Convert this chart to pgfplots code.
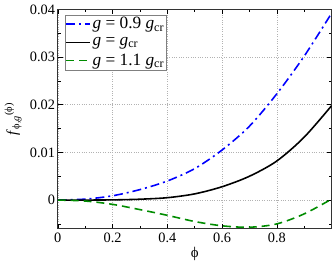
\documentclass[border=0pt]{standalone}
\usepackage{fontspec}
\setmainfont{Liberation Serif}
\usepackage{pgfplots}
\pgfplotsset{compat=1.18}
\definecolor{myblue}{RGB}{0,0,255}
\definecolor{mygreen}{RGB}{0,140,0}
\begin{document}
\fontsize{14}{16}\selectfont
\begin{tikzpicture}
\begin{axis}[
  scale only axis,
  width=276bp, height=221bp,
  xmin=0, xmax=1.0, ymin=-0.006, ymax=0.04,
  xtick={0,0.2,0.4,0.6,0.8},
  xticklabels={0,0.2,0.4,0.6,0.8},
  ytick={0,0.01,0.02,0.03,0.04},
  yticklabels={0,0.01,0.02,0.03,0.04},
  minor xtick={0.1,0.3,0.5,0.7,0.9},
  minor ytick={-0.005,0.005,0.015,0.025,0.035},
  scaled y ticks=false,
  tick align=inside,
  major tick length=5bp, minor tick length=3bp,
  every tick/.style={black, line width=0.6pt},
  axis line style={line width=0.9pt, black!80},
  grid=major,
  major grid style={gray!60, dotted, line width=0.6pt},
  tick label style={font=\fontsize{14.5}{16}\selectfont},
  xticklabel style={yshift=1bp},
  yticklabel style={xshift=2bp},
  /pgf/number format/assume math mode=true,
  xlabel={ϕ},
  ylabel={\textit{f}\textsubscript{ϕ,\textit{g}}\textsuperscript{(ϕ)}},
  label style={font=\fontsize{15}{17}\selectfont},
  xlabel style={yshift=4bp},
  ylabel style={yshift=-1bp},
  legend style={at={(0.025,0.977)}, anchor=north west, draw=gray, line width=0.6pt,
    font=\fontsize{17.5}{19}\selectfont, inner sep=0.5pt, row sep=2.5bp, cells={anchor=west}},
  legend cell align=left,
  legend image code/.code={\draw[#1] (0bp,0bp) -- (24bp,0bp);},
  legend image post style={line width=1.4pt},
]
\addplot[myblue, line width=1.6pt, dash pattern=on 9bp off 4bp on 2bp off 4bp, smooth] coordinates {
(0,0) (0.1,0.0002) (0.2,0.0009) (0.3,0.0022) (0.4,0.0040) (0.5,0.0066) (0.6,0.0105) (0.7,0.0155) (0.8,0.0223) (0.9,0.0302) (1.0,0.0392)};
\addlegendentry{\textit{g} = 0.9 \textit{g}\textsubscript{cr}}
\addplot[black, line width=1.6pt, smooth] coordinates {
(0,0) (0.1,0.0000) (0.2,0.00004) (0.3,0.00018) (0.4,0.0005) (0.5,0.0013) (0.6,0.0028) (0.7,0.0050) (0.8,0.0082) (0.9,0.0132) (1.0,0.0198)};
\addlegendentry{\textit{g} = \textit{g}\textsubscript{cr}}
\addplot[mygreen, line width=1.6pt, dash pattern=on 8bp off 5bp, smooth] coordinates {
(0,0) (0.1,-0.0002) (0.2,-0.0009) (0.3,-0.0020) (0.4,-0.0032) (0.5,-0.0045) (0.6,-0.0054) (0.7,-0.0057) (0.8,-0.0050) (0.9,-0.0029) (1.0,0.0002)};
\addlegendentry{\textit{g} = 1.1 \textit{g}\textsubscript{cr}}
\end{axis}
\end{tikzpicture}
\end{document}
